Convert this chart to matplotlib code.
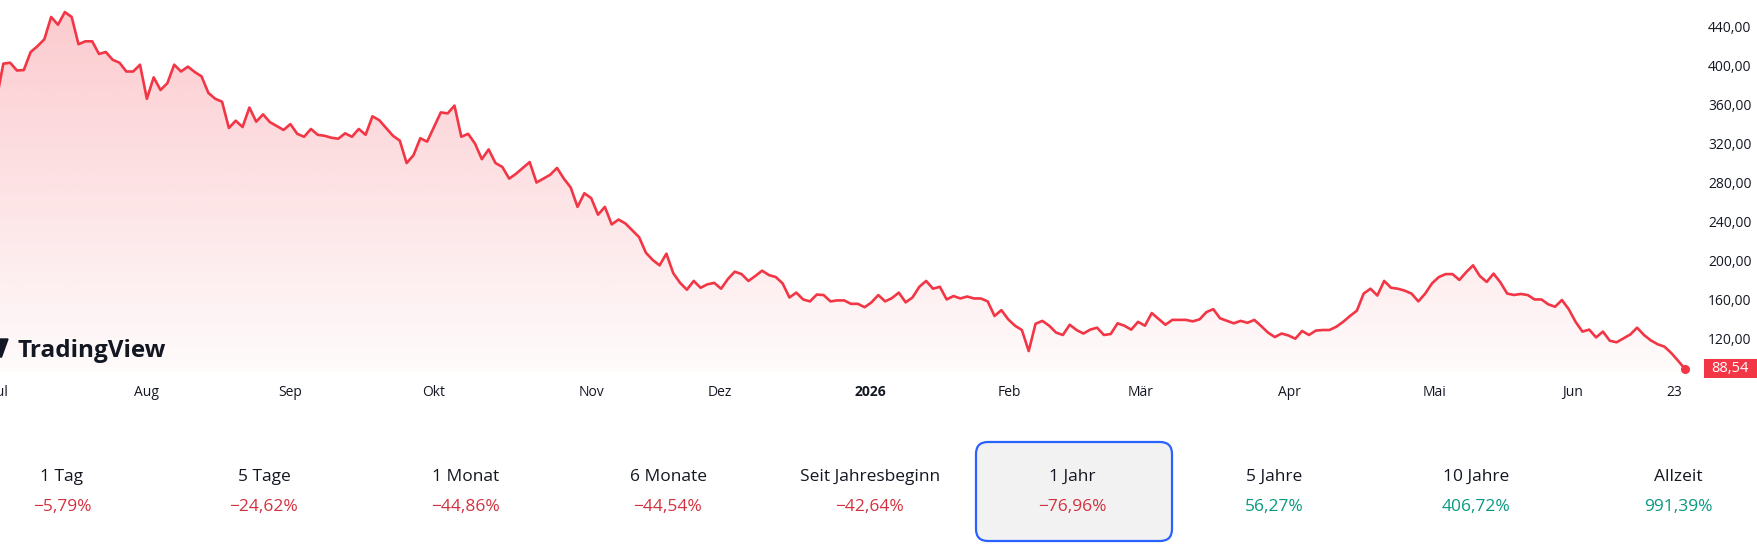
import numpy as np
import matplotlib.pyplot as plt
from matplotlib.patches import FancyBboxPatch, Rectangle, Polygon
from matplotlib.transforms import blended_transform_factory

plt.rcParams['font.family'] = ['Open Sans', 'DejaVu Sans']

# one value per trading day, Jun 2025 .. Jun 23 2026
prices = [365, 402, 403, 395, 395.5, 414, 420, 427, 450, 442, 455, 450, 422, 425, 425, 412, 414, 406, 403, 394,
          394, 401, 366, 388, 375, 382, 401, 394, 399, 393.5, 389, 372, 366, 363, 336, 343.5, 337, 357, 342.5, 350,
          342, 338, 334, 340, 330, 327, 335, 329, 328, 326, 325, 330.5, 327, 335, 329, 348, 344, 336, 328, 323,
          300, 308, 325.5, 322, 337, 352, 351, 359, 327, 330, 320, 304, 314, 300, 296, 284, 289, 295, 301, 280,
          284, 288, 295, 284, 275, 255, 269, 264, 247, 255, 237, 242, 238, 231, 224, 208, 200.5, 195, 207, 187,
          177, 170, 179, 172, 175.5, 177, 171, 181, 188.5, 186, 179, 184,
          189.5, 185, 183, 176.5, 162, 167, 160, 158, 165, 164.5, 158, 159, 159, 155.5, 155.5, 152, 157, 164.5,
          158, 161.4, 167, 157, 162, 173, 179, 171, 173, 160, 163.5, 161, 163, 161, 161, 158, 143, 149, 139.6,
          133, 128.6, 107, 135, 138, 133, 126, 123.5, 134, 128.6, 125, 129, 131, 123.5, 124.5, 135.5, 133, 129, 137,
          133, 146, 140, 134, 139, 139, 139, 137.5, 139.6, 147, 150, 140.6, 138, 135.5, 138, 136, 139, 132.7,
          126, 121.4, 125, 123, 119.7, 127.6, 123.5, 128, 128.6, 128.6, 132, 137, 143, 148.4, 166, 171, 164, 179,
          172, 171, 169, 166, 158, 166, 176.5, 183, 186, 186, 180, 188, 195, 184, 178, 186.5, 177.5, 166, 164.6,
          165.6, 164.5, 160, 160, 155, 152.5, 159.4, 150, 137, 127, 129, 121, 127, 117.6, 116, 120, 124, 131,
          123.5, 118, 114, 111.5, 105, 97, 88.54]

month_labels = ['Jul', 'Aug', 'Sep', 'Okt', 'Nov', 'Dez', '2026', 'Feb', 'Mär', 'Apr', 'Mai', 'Jun', '23']
month_pos = [0.5, 21.9, 42.9, 63.9, 87.0, 105.8, 127.9, 148.1, 167.3, 189.2, 210.3, 230.5, 245.5]

y_ticks = [120, 160, 200, 240, 280, 320, 360, 400, 440]

periods = ['1 Tag', '5 Tage', '1 Monat', '6 Monate', 'Seit Jahresbeginn', '1 Jahr', '5 Jahre', '10 Jahre', 'Allzeit']
changes = [-5.79, -24.62, -44.86, -44.54, -42.64, -76.96, 56.27, 406.72, 991.39]
selected = '1 Jahr'

RED = '#F23645'
RED_TXT = '#D2323F'
GREEN_TXT = '#089981'
INK = '#131722'

W, H = 1757, 545
fig = plt.figure(figsize=(W / 100, H / 100), dpi=100)
fig.patch.set_facecolor('white')

ax = fig.add_axes([0, 1 - 372 / H, 1700 / W, 372 / H])
x = np.arange(len(prices))
y = np.array(prices)
ax.set_xlim(0.517, 249.2)
ax.set_ylim(85.5, 467.4)

# gradient area under the line
poly = ax.fill_between(x, y, 85.5, color='none', lw=0)
grad = np.zeros((256, 1, 4))
grad[:, 0, 0] = 242 / 255
grad[:, 0, 1] = 54 / 255
grad[:, 0, 2] = 69 / 255
grad[:, 0, 3] = np.linspace(0.26, 0.02, 256)
img = ax.imshow(grad, extent=[0, 250, 85.5, max(prices)], aspect='auto', origin='upper', zorder=1)
img.set_clip_path(poly.get_paths()[0], transform=ax.transData)

ax.plot(x, y, color=RED, lw=1.9, zorder=3, solid_joinstyle='round')
ax.plot(x[-1], y[-1], 'o', color=RED, ms=5.5, zorder=4, clip_on=False)

for s in ax.spines.values():
    s.set_visible(False)
ax.yaxis.tick_right()
ax.set_yticks(y_ticks)
ax.set_yticklabels([f'{v:.2f}'.replace('.', ',') for v in y_ticks])
ax.tick_params(axis='y', length=0, pad=5.8, labelsize=10, labelcolor=INK)
ax.set_xticks([])

tr = blended_transform_factory(ax.transData, ax.transAxes)
for lab, pos in zip(month_labels, month_pos):
    ax.text(pos, -0.054, lab, transform=tr, ha='center', va='center', fontsize=10, color=INK,
            fontweight='bold' if lab == '2026' else 'normal', clip_on=False)

# overlay in pixel coordinates
ov = fig.add_axes([0, 0, 1, 1], zorder=5)
ov.set_xlim(0, W)
ov.set_ylim(H, 0)
ov.axis('off')
ov.patch.set_alpha(0)

# watermark
ov.add_patch(Polygon([(0, 339), (8, 339), (1.5, 357), (0, 357)], closed=True, color=INK))
ov.text(17, 357, 'TradingView', fontsize=17.5, fontweight='bold', color=INK, ha='left', va='baseline')

# last price tag
ov.add_patch(Rectangle((1704, 359), 53, 19, color=RED, lw=0))
ov.text(1730, 368.5, f'{prices[-1]:.2f}'.replace('.', ','), color='white', fontsize=10.5,
        ha='center', va='center')

# performance row
for i, (p, c) in enumerate(zip(periods, changes)):
    cx = 62 + 202 * i
    if p == selected:
        ov.add_patch(FancyBboxPatch((cx - 96 + 12, 442 + 12), 196 - 24, 99 - 24,
                                    boxstyle='round,pad=12', fc='#F2F2F2', ec='#2962FF', lw=1.6))
    ov.text(cx, 477, p, ha='center', va='center', fontsize=12.5, color=INK)
    txt = (f'{c:.2f}'.replace('.', ',') + '%').replace('-', '\u2212')
    ov.text(cx, 507, txt, ha='center', va='center', fontsize=12.5,
            color=RED_TXT if c < 0 else GREEN_TXT)

fig.savefig('out.png', dpi=100, facecolor='white')
